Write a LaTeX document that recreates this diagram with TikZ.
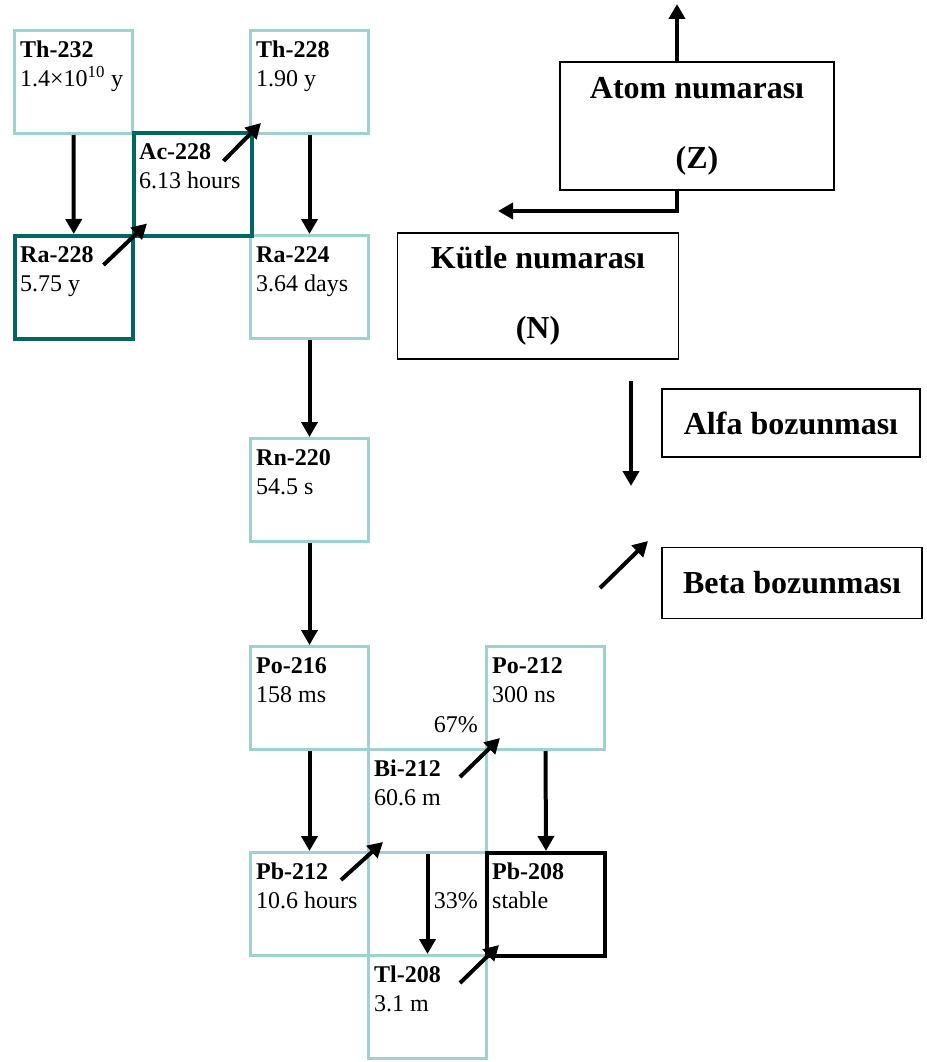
\documentclass[tikz,border=0pt]{standalone}
\usepackage{fontspec}
\setmainfont{Liberation Serif}
\usepackage{xcolor}
\usetikzlibrary{arrows.meta}
\definecolor{lightteal}{HTML}{9FD1CE}
\definecolor{darkteal}{HTML}{00665F}

\begin{document}
\begin{tikzpicture}[x=1pt, y=-1pt,
  nuc/.style={draw=lightteal, line width=3pt, minimum width=118pt, minimum height=103pt, inner sep=0pt, anchor=north west},
  nuctext/.style={anchor=north west, align=left, inner sep=0pt, xshift=7pt, yshift=-12pt, font=\fontsize{24}{29}\selectfont},
  pct/.style={inner sep=0pt, anchor=base east, font=\fontsize{24}{29}\selectfont},
  legend/.style={draw, line width=1.6pt, align=center, inner sep=0pt, font=\bfseries\fontsize{32}{70}\selectfont},
  decay/.style={line width=4pt, -{Triangle[length=15pt,width=16pt]}}]
  \useasboundingbox (0,0) rectangle (926,1062);

  % chain of boxes
  \node[nuc, label={[nuctext]north west:{\textbf{Th-232}\\1.4×10\textsuperscript{10} y}}] (th232) at (13,29) {};
  \node[nuc, label={[nuctext]north west:{\textbf{Th-228}\\1.90 y}}] (th228) at (249,29) {};
  \node[nuc, label={[nuctext]north west:{\textbf{Ra-224}\\3.64 days}}] (ra224) at (249,234) {};
  \node[nuc, label={[nuctext]north west:{\textbf{Rn-220}\\54.5 s}}] (rn220) at (249,437) {};
  \node[nuc, label={[nuctext]north west:{\textbf{Po-216}\\158 ms}}] (po216) at (249,645) {};
  \node[nuc, label={[nuctext]north west:{\textbf{Po-212}\\300 ns}}] (po212) at (485,645) {};
  \node[nuc, label={[nuctext]north west:{\textbf{Bi-212}\\60.6 m}}] (bi212) at (367,748) {};
  \node[nuc, label={[nuctext]north west:{\textbf{Pb-212}\\10.6 hours}}] (pb212) at (249,851) {};
  \node[nuc, label={[nuctext]north west:{\textbf{Tl-208}\\3.1 m}}] (tl208) at (367,954) {};
  \node[nuc, draw=darkteal, line width=3.5pt, label={[nuctext]north west:{\textbf{Ra-228}\\5.75 y}}] (ra228) at (13,234) {};
  \node[nuc, draw=darkteal, line width=3.5pt, label={[nuctext]north west:{\textbf{Ac-228}\\6.13 hours}}] (ac228) at (132,131) {};
  \node[nuc, draw=black, line width=4pt, label={[nuctext]north west:{\textbf{Pb-208}\\stable}}] (pb208) at (485,851) {};

  \node[pct] (p67) at (478,732) {67\%};
  \node[pct] (p33) at (478,908) {33\%};

  % alpha
  \draw[decay] (th232.south) -- (ra228.north);
  \draw[decay] (th228.south) -- (ra224.north);
  \draw[decay] (ra224.south) -- (rn220.north);
  \draw[decay] (rn220.south) -- (po216.north);
  \draw[decay] (po216.south) -- (pb212.north);
  \draw[decay] (bi212.south) -- (tl208.north);
  \draw[decay] (po212.south) -- (pb208.north);
  % beta
  \draw[decay] ([shift={(-31,31)}]ra228.north east) -- ([shift={(15,-14)}]ac228.south west);
  \draw[decay] ([shift={(-30,30)}]ac228.north east) -- ([shift={(12,-12)}]th228.south west);
  \draw[decay] ([shift={(-29,29)}]pb212.north east) -- ([shift={(16,-12)}]bi212.south west);
  \draw[decay] ([shift={(-28,29)}]bi212.north east) -- ([shift={(15,-13)}]po212.south west);
  \draw[decay] ([shift={(-28,29)}]tl208.north east) -- ([shift={(14,-13)}]pb208.south west);

  % legend
  \node[legend, minimum width=274pt, minimum height=128pt] (atom) at (697,126) {Atom numarası\\(Z)};
  \node[legend, minimum width=281pt, minimum height=126pt] (kutle) at (538,296) {Kütle numarası\\(N)};
  \node[legend, minimum width=258pt, minimum height=68pt] (alfa) at (791,423) {Alfa bozunması};
  \node[legend, minimum width=260pt, minimum height=71pt] (beta) at (792,583) {Beta bozunması};
  \coordinate (zup) at (677,4);
  \coordinate (zleft) at (498,211);
  \coordinate (a1) at (631,381);
  \coordinate (a2) at (631,486);
  \coordinate (b1) at (600,588);
  \coordinate (b2) at (648,541);
  \draw[decay] ([xshift=-20pt]atom.north) -- (zup);
  \draw[decay] ([xshift=-20pt]atom.south) |- (zleft);
  \draw[decay] (a1) -- (a2);
  \draw[decay] (b1) -- (b2);
\end{tikzpicture}
\end{document}
